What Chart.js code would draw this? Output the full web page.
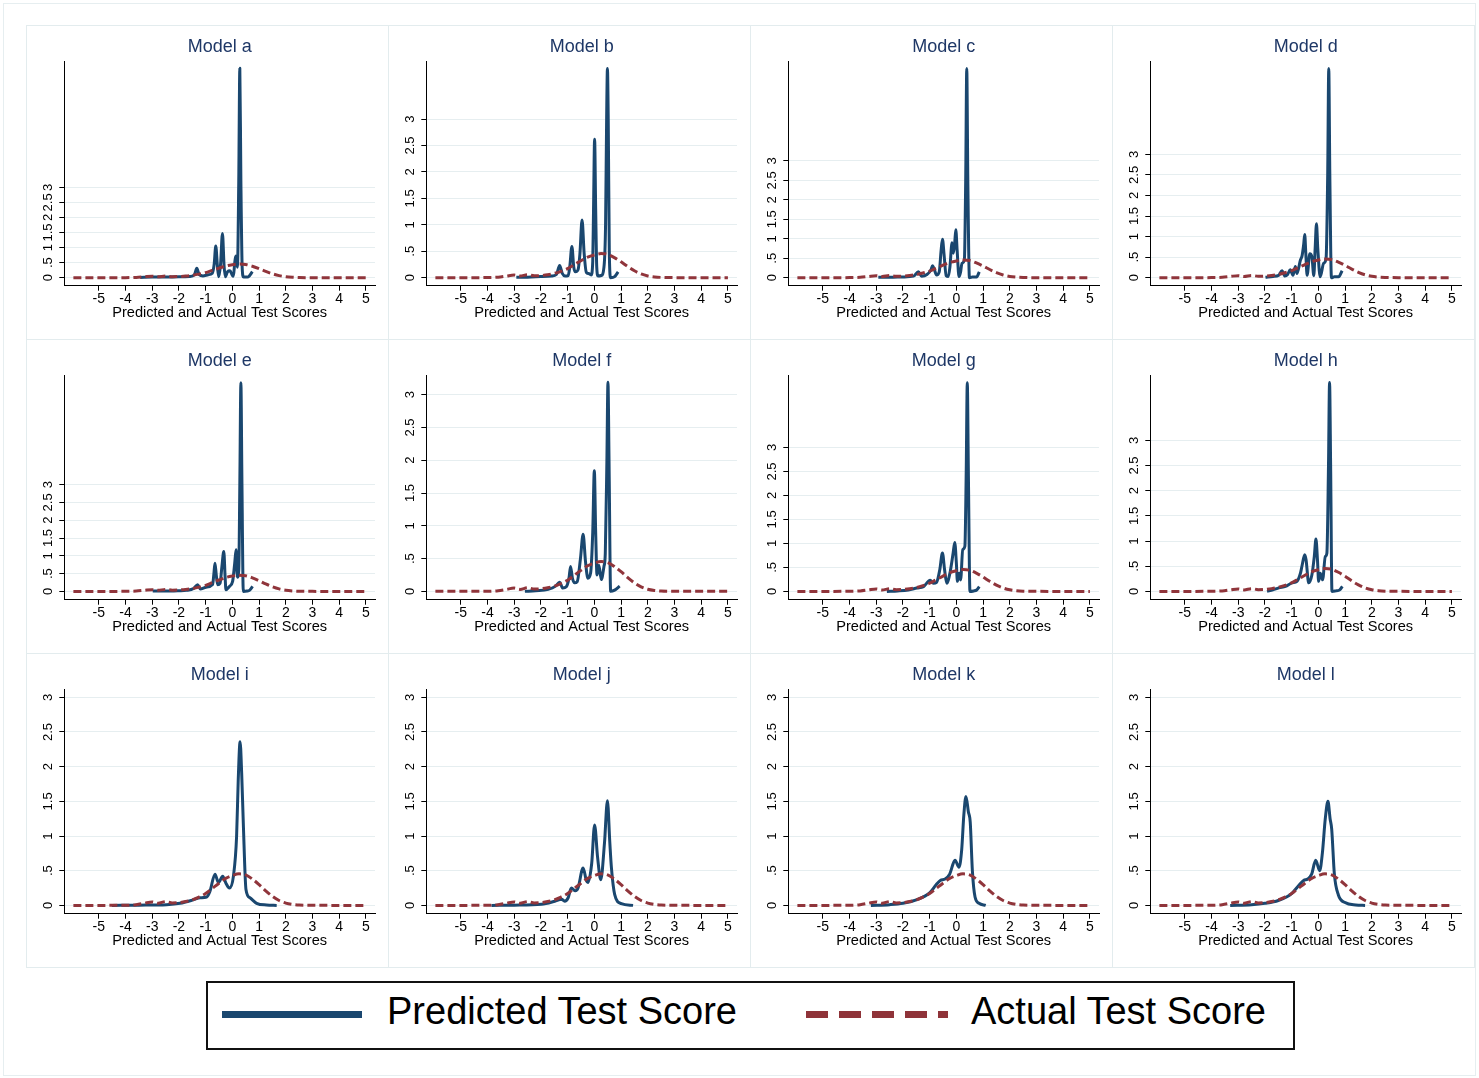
<!DOCTYPE html>
<html><head><meta charset="utf-8">
<script src="https://cdn.jsdelivr.net/npm/chart.js@4.4.0/dist/chart.umd.min.js"></script>
<style>
html,body{margin:0;padding:0;background:#fff;}
body{width:1479px;height:1078px;position:relative;overflow:hidden;font-family:"Liberation Sans",Arial,sans-serif;}
#frame{position:absolute;left:3px;top:3px;width:1473px;height:1073px;border:1px solid #e6eef0;box-sizing:border-box;}
.pbox{position:absolute;width:363px;height:315px;border:1px solid #e3ecee;box-sizing:border-box;}
canvas.pc{position:absolute;}
#legend{position:absolute;left:206px;top:981px;width:1089px;height:69px;border:2px solid #111;box-sizing:border-box;background:#fff;}
.ltxt{position:absolute;top:9px;font-size:38px;line-height:38px;color:#000;white-space:nowrap;}
</style></head>
<body>
<div id="frame"></div>
<div id="panels"></div>
<div id="legend">
  <div style="position:absolute;left:14px;top:28px;width:140px;height:7px;background:#1a476f"></div>
  <div class="ltxt" style="left:179px">Predicted Test Score</div>
  <svg style="position:absolute;left:598px;top:28px" width="144" height="8"><line x1="0" y1="3.5" x2="142" y2="3.5" stroke="#8f3339" stroke-width="7" stroke-dasharray="22,11"/></svg>
  <div class="ltxt" style="left:763px">Actual Test Score</div>
</div>
<script>
// ---------- data ----------
const modelNames = ['Model a','Model b','Model c','Model d','Model e','Model f','Model g','Model h','Model i','Model j','Model k','Model l'];
const xTitle = 'Predicted and Actual Test Scores';
const xTicks = [-5,-4,-3,-2,-1,0,1,2,3,4,5];
const xTickLabels = ['-5','-4','-3','-2','-1','0','1','2','3','4','5'];
const yTicks = [0,0.5,1,1.5,2,2.5,3];
const yTickLabels = ['0','.5','1','1.5','2','2.5','3'];
const xMin = -6.29, xMax = 5.34;
const yMaxs = [7.19,4.10,5.57,5.27,6.08,3.30,4.51,4.30,3.12,3.12,3.12,3.12];
const yMins = [-0.265,-0.152,-0.206,-0.195,-0.233,-0.127,-0.173,-0.165,-0.12,-0.12,-0.12,-0.12];

const actualX = [-5.95,-5,-4,-3.6,-3.3,-3.0,-2.78,-2.5,-2.25,-2.0,-1.75,-1.5,-1.25,-1.0,-0.75,-0.5,-0.25,0,0.25,0.5,0.75,1.0,1.25,1.5,1.75,2.0,2.25,2.5,3,4,5.0];
const actualY = [0,0,0.002,0.01,0.03,0.05,0.03,0.055,0.035,0.04,0.055,0.08,0.12,0.17,0.245,0.32,0.39,0.43,0.455,0.44,0.38,0.30,0.21,0.13,0.07,0.033,0.014,0.005,0.001,0,0];

const aX = [-3.45,-3.0,-2.5,-2.0,-1.6,-1.42,-1.33,-1.24,-1.1,-0.9,-0.75,-0.68,-0.62,-0.56,-0.51,-0.44,-0.37,-0.31,-0.26,-0.18,-0.09,0.0,0.04,0.09,0.13,0.19,0.24,0.28,0.32,0.37,0.42,0.5,0.6,0.75];
const aY = [0.01,0.02,0.02,0.03,0.04,0.1,0.31,0.1,0.06,0.1,0.15,0.45,1.05,0.4,0.03,0.45,1.47,0.4,0.03,0.2,0.23,0.08,0.05,0.5,0.72,0.35,3.2,6.95,3.2,0.3,0.02,0.02,0.03,0.2];
const bX = [-2.92,-2.5,-2.0,-1.6,-1.42,-1.3,-1.2,-1.1,-0.98,-0.92,-0.84,-0.77,-0.71,-0.61,-0.54,-0.46,-0.38,-0.3,-0.22,-0.12,-0.06,-0.03,0.01,0.05,0.09,0.14,0.26,0.36,0.42,0.46,0.49,0.52,0.56,0.61,0.76,0.89];
const bY = [0.01,0.01,0.02,0.03,0.06,0.23,0.08,0.03,0.04,0.2,0.59,0.2,0.11,0.15,0.45,1.09,0.45,0.1,0.08,0.05,0.3,1.3,2.62,1.3,0.2,0.03,0.04,0.2,1.0,3.0,3.96,3.0,0.5,0.0,0.02,0.11];
const cX = [-2.92,-2.5,-2.0,-1.6,-1.42,-1.3,-1.1,-0.95,-0.89,-0.82,-0.74,-0.64,-0.57,-0.52,-0.46,-0.38,-0.3,-0.24,-0.16,-0.11,-0.06,-0.02,0.03,0.1,0.16,0.21,0.3,0.35,0.39,0.43,0.49,0.6,0.76,0.86];
const cY = [0.01,0.01,0.02,0.04,0.15,0.04,0.08,0.2,0.31,0.2,0.07,0.15,0.7,0.99,0.6,0.05,0.03,0.28,0.9,0.63,0.9,1.23,0.7,0.03,0.15,0.37,0.45,2.5,5.38,2.5,0.0,0.02,0.02,0.15];
const dX = [-1.98,-1.7,-1.48,-1.36,-1.25,-1.15,-1.05,-0.95,-0.86,-0.8,-0.67,-0.61,-0.55,-0.51,-0.47,-0.42,-0.32,-0.24,-0.17,-0.12,-0.07,-0.02,0.07,0.2,0.29,0.35,0.39,0.43,0.49,0.6,0.76,0.89];
const dY = [0.01,0.03,0.06,0.17,0.04,0.08,0.19,0.06,0.27,0.1,0.43,0.53,0.8,1.05,0.6,0.06,0.58,0.5,0.05,0.7,1.31,0.7,0.02,0.35,0.47,2.5,5.09,2.5,0.0,0.02,0.02,0.17];
const eX = [-2.98,-2.5,-2.0,-1.73,-1.45,-1.3,-1.2,-0.98,-0.74,-0.69,-0.65,-0.6,-0.55,-0.46,-0.39,-0.32,-0.27,-0.24,-0.11,0.01,0.09,0.14,0.19,0.24,0.28,0.32,0.36,0.41,0.55,0.64,0.76];
const eY = [0.01,0.01,0.02,0.03,0.08,0.19,0.07,0.12,0.19,0.5,0.79,0.45,0.19,0.23,0.7,1.12,0.4,0.05,0.14,0.28,0.8,1.17,0.4,0.6,3.0,5.86,3.0,0.0,0.01,0.03,0.14];
const fX = [-2.6,-2.2,-1.73,-1.45,-1.3,-1.18,-1.05,-0.95,-0.89,-0.82,-0.74,-0.64,-0.52,-0.42,-0.33,-0.24,-0.14,-0.06,0.0,0.05,0.1,0.17,0.26,0.36,0.41,0.47,0.51,0.55,0.61,0.76,0.95];
const fY = [0.0,0.01,0.03,0.08,0.14,0.05,0.07,0.2,0.38,0.2,0.13,0.15,0.5,0.87,0.45,0.2,0.28,0.9,1.84,0.9,0.25,0.4,0.18,0.38,0.58,2.0,3.19,2.0,0.0,0.02,0.08];
const gX = [-2.6,-2.2,-1.8,-1.48,-1.23,-0.98,-0.86,-0.74,-0.62,-0.52,-0.44,-0.36,-0.24,-0.12,-0.06,0.0,0.04,0.11,0.16,0.24,0.32,0.37,0.41,0.45,0.51,0.65,0.76,0.86];
const gY = [0.0,0.01,0.03,0.07,0.1,0.23,0.17,0.19,0.45,0.8,0.45,0.17,0.38,0.8,1.02,0.6,0.21,0.38,0.24,0.87,0.94,2.5,4.35,2.5,0.0,0.01,0.03,0.1];
const hX = [-1.92,-1.7,-1.48,-1.23,-0.98,-0.8,-0.67,-0.61,-0.51,-0.46,-0.36,-0.24,-0.15,-0.09,-0.03,0.01,0.07,0.16,0.26,0.32,0.38,0.42,0.46,0.51,0.65,0.8,0.9];
const hY = [0.0,0.03,0.07,0.1,0.17,0.2,0.36,0.51,0.73,0.63,0.17,0.33,0.7,1.04,0.6,0.2,0.36,0.23,0.69,0.76,2.5,4.15,2.5,0.0,0.01,0.03,0.1];
const iX = [-4.51,-3.5,-2.46,-1.96,-1.46,-1.21,-0.96,-0.84,-0.65,-0.52,-0.36,-0.24,-0.11,0.04,0.16,0.22,0.29,0.35,0.41,0.51,0.66,0.91,1.28,1.66];
const iY = [0.0,0.003,0.01,0.03,0.08,0.11,0.12,0.2,0.45,0.33,0.42,0.32,0.25,0.42,1.0,1.8,2.36,1.9,1.19,0.23,0.11,0.03,0.005,0.0];
const jX = [-3.85,-3.0,-1.98,-1.48,-1.23,-1.11,-0.98,-0.86,-0.71,-0.61,-0.42,-0.3,-0.24,-0.1,0.01,0.12,0.24,0.38,0.49,0.58,0.64,0.76,1.01,1.45];
const jY = [0.0,0.003,0.015,0.06,0.09,0.06,0.11,0.25,0.21,0.25,0.54,0.36,0.33,0.6,1.16,0.7,0.37,0.9,1.51,0.9,0.54,0.16,0.025,0.0];
const kX = [-3.2,-2.5,-2.0,-1.5,-1.0,-0.75,-0.6,-0.42,-0.25,-0.05,0.1,0.2,0.28,0.36,0.45,0.52,0.6,0.7,0.85,1.1];
const kY = [0.0,0.01,0.03,0.08,0.18,0.3,0.36,0.38,0.45,0.65,0.55,0.8,1.3,1.57,1.35,1.2,0.5,0.12,0.03,0.0];
const lX = [-3.3,-2.5,-2.0,-1.5,-1.0,-0.75,-0.55,-0.4,-0.25,-0.1,0.05,0.15,0.26,0.36,0.44,0.5,0.6,0.75,1.0,1.4,1.75];
const lY = [0.0,0.01,0.03,0.07,0.17,0.28,0.36,0.38,0.45,0.65,0.5,0.75,1.25,1.5,1.25,1.1,0.45,0.15,0.04,0.005,0.0];

const predX = [aX,bX,cX,dX,eX,fX,gX,hX,iX,jX,kX,lX];
const predY = [aY,bY,cY,dY,eY,fY,gY,hY,iY,jY,kY,lY];

// ---------- layout / styles ----------
const PW = 362, PH = 314, P0X = 26, P0Y = 25;
const FONT = '"Liberation Sans", Arial, sans-serif';
const BLUE = '#1a476f', RED = '#90353b', TITLE = '#1e3766', GRID = '#e6eef0';

const toPts = (xs, ys) => xs.map((x, k) => ({x: x, y: ys[k]}));
const panelsDiv = document.getElementById('panels');

for (let p = 0; p < 12; p++) {
  const col = p % 4, row = Math.floor(p / 4);
  const left = P0X + col * PW, top = P0Y + row * PH;
  const box = document.createElement('div');
  box.className = 'pbox';
  box.style.left = left + 'px'; box.style.top = top + 'px';
  panelsDiv.appendChild(box);
  const cv = document.createElement('canvas');
  cv.className = 'pc';
  cv.width = PW; cv.height = PH;
  cv.style.left = left + 'px'; cv.style.top = top + 'px';
  cv.style.width = PW + 'px'; cv.style.height = PH + 'px';
  panelsDiv.appendChild(cv);

  new Chart(cv, {
    type: 'line',
    data: {
      datasets: [
        {label: 'Actual Test Score', data: toPts(actualX, actualY), borderColor: RED, borderWidth: 3,
         borderDash: [8, 4], pointRadius: 0, fill: false, cubicInterpolationMode: 'monotone'},
        {label: 'Predicted Test Score', data: toPts(predX[p], predY[p]), borderColor: BLUE, borderWidth: 3,
         pointRadius: 0, fill: false, cubicInterpolationMode: 'monotone', borderJoinStyle: 'round'}
      ]
    },
    options: {
      responsive: false, animation: false, devicePixelRatio: 1,
      layout: {padding: {left: 0, right: 13, top: 0, bottom: 0}},
      plugins: {
        legend: {display: false}, tooltip: {enabled: false},
        title: {display: true, text: modelNames[p], fullSize: false, color: TITLE,
                font: {family: FONT, size: 18, weight: 'normal'}, padding: {top: 11.2, bottom: 3.2}}
      },
      scales: {
        x: {
          type: 'linear', min: xMin, max: xMax,
          afterBuildTicks: s => { s.ticks = xTicks.map(v => ({value: v})); },
          afterFit: s => { s.height = 53.3; },
          ticks: {autoSkip: false, maxRotation: 0, minRotation: 0, color: '#000', padding: 0,
                  font: {family: FONT, size: 14}, callback: (v, i) => xTickLabels[i]},
          grid: {drawOnChartArea: false, drawTicks: true, tickLength: 5, tickColor: '#000', tickWidth: 1},
          border: {display: true, color: '#000', width: 1},
          title: {display: true, text: xTitle, color: '#000', font: {family: FONT, size: 14.6},
                  padding: {top: 0, bottom: 17.5}}
        },
        y: {
          type: 'linear', min: yMins[p], max: yMaxs[p],
          afterBuildTicks: s => { s.ticks = yTicks.map(v => ({value: v})); },
          afterFit: s => { s.width = 38.3; },
          ticks: {autoSkip: false, minRotation: 90, maxRotation: 90, crossAlign: 'center', padding: 2,
                  color: '#000', font: {family: FONT, size: 13}, callback: (v, i) => yTickLabels[i]},
          grid: {color: GRID, lineWidth: 1, drawTicks: true, tickLength: 5, tickColor: '#000', tickWidth: 1},
          border: {display: true, color: '#000', width: 1}
        }
      }
    }
  });
}
</script>
</body></html>
